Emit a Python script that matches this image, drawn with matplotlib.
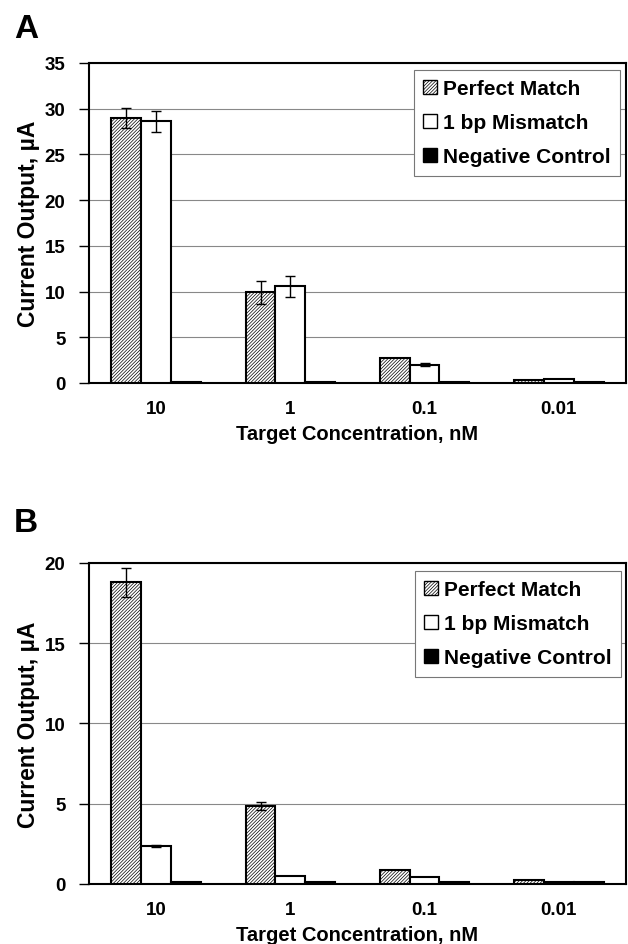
import numpy as np
import matplotlib
matplotlib.use("Agg")
import matplotlib.pyplot as plt
from matplotlib.patches import Patch

plt.rcParams["font.family"] = ["Liberation Sans", "DejaVu Sans"]
plt.rcParams["font.weight"] = "bold"
plt.rcParams["hatch.linewidth"] = 0.5

categories = ["10", "1", "0.1", "0.01"]
series_names = ["Perfect Match", "1 bp Mismatch", "Negative Control"]

# panel A
pm_a = [29.0, 9.9, 2.7, 0.35]
pm_a_err = [1.1, 1.3, 0.0, 0.0]
mm_a = [28.6, 10.6, 2.0, 0.45]
mm_a_err = [1.1, 1.15, 0.2, 0.0]
nc_a = [0.15, 0.12, 0.1, 0.1]

# panel B
pm_b = [18.8, 4.84, 0.88, 0.27]
pm_b_err = [0.9, 0.25, 0.0, 0.0]
mm_b = [2.37, 0.5, 0.43, 0.15]
mm_b_err = [0.05, 0.0, 0.0, 0.0]
nc_b = [0.12, 0.11, 0.1, 0.1]

HATCH = "/" * 10


def draw_panel(ax, pm, pm_err, mm, mm_err, nc, ymax, legend_anchor):
    x = np.arange(len(categories))
    w = 1 / 4.5
    ax.bar(x - w, pm, w, color="white", edgecolor="black", hatch=HATCH,
           linewidth=1.5, zorder=3)
    ax.bar(x, mm, w, color="white", edgecolor="black", linewidth=1.5, zorder=3)
    ax.bar(x + w, nc, w, color="black", edgecolor="black", linewidth=1.5, zorder=3)
    pe = np.array(pm_err)
    me = np.array(mm_err)
    ax.errorbar((x - w)[pe > 0], np.array(pm)[pe > 0], yerr=pe[pe > 0], fmt="none",
                ecolor="black", elinewidth=1, capsize=3.5, capthick=1, zorder=4)
    ax.errorbar(x[me > 0], np.array(mm)[me > 0], yerr=me[me > 0], fmt="none",
                ecolor="black", elinewidth=1, capsize=3.5, capthick=1, zorder=4)

    ax.set_xlim(-0.5, len(categories) - 0.5)
    ax.set_ylim(0, ymax)
    ax.set_yticks(np.arange(0, ymax + 1, 5))
    ax.set_xticks(x)
    ax.set_xticklabels(categories, fontsize=13.5, fontweight="bold")
    ax.tick_params(axis="x", length=0, pad=12)
    ax.tick_params(axis="y", length=7, width=1, labelsize=13.5, pad=10)
    for lbl in ax.get_yticklabels():
        lbl.set_fontweight("bold")
    ax.yaxis.grid(True, color="#888888", linewidth=0.8)
    ax.set_axisbelow(True)
    for s in ax.spines.values():
        s.set_linewidth(1.5)
    ax.set_ylabel("Current Output, \u00b5A", fontsize=16.5, fontweight="bold", labelpad=3)
    ax.set_xlabel("Target Concentration, nM", fontsize=14.5, fontweight="bold", labelpad=5)

    handles = [Patch(facecolor="white", edgecolor="black", hatch=HATCH, linewidth=1),
               Patch(facecolor="white", edgecolor="black", linewidth=1),
               Patch(facecolor="black", edgecolor="black", linewidth=1)]
    leg = ax.legend(handles, series_names, loc="upper right", bbox_to_anchor=legend_anchor,
                    borderaxespad=0, fancybox=False, edgecolor="#777777",
                    prop={"size": 15, "weight": "bold"}, handlelength=0.65,
                    handleheight=0.65, handletextpad=0.3, labelspacing=0.72,
                    borderpad=0.45, framealpha=1)
    leg.get_frame().set_linewidth(0.8)


fig = plt.figure(figsize=(6.28, 9.45), dpi=100)
ax_a = fig.add_axes([0.1417, 0.5937, 0.855, 0.3386])
ax_b = fig.add_axes([0.1417, 0.0635, 0.855, 0.3397])

draw_panel(ax_a, pm_a, pm_a_err, mm_a, mm_a_err, nc_a, 35, (0.989, 0.978))
draw_panel(ax_b, pm_b, pm_b_err, mm_b, mm_b_err, nc_b, 20, (0.991, 0.975))

fig.text(0.022, 1 - 38 / 945, "A", fontsize=24, fontweight="bold", va="baseline")
fig.text(0.022, 1 - 532 / 945, "B", fontsize=24, fontweight="bold", va="baseline")

fig.savefig("out.png", dpi=100)
